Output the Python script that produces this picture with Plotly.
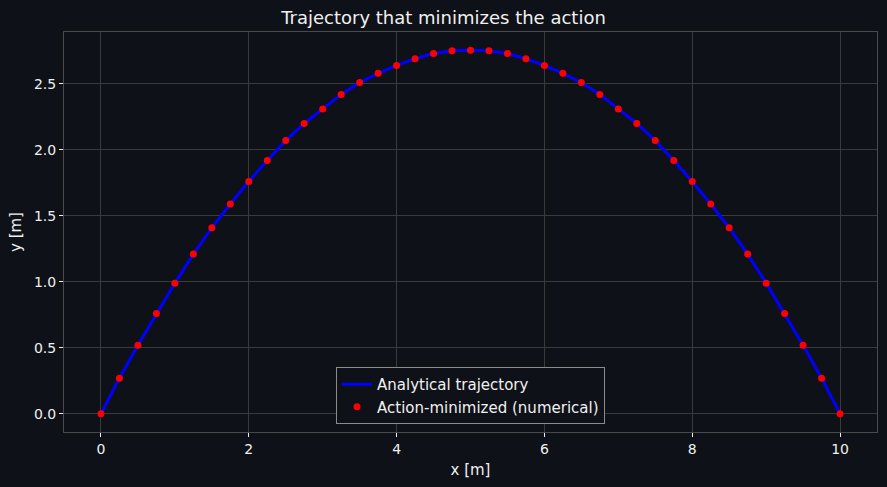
import plotly.graph_objects as go

# positions along x [m] (every 0.25 m)
x_pts = [0.0, 0.25, 0.5, 0.75, 1.0, 1.25, 1.5, 1.75, 2.0, 2.25, 2.5, 2.75, 3.0, 3.25, 3.5, 3.75,
         4.0, 4.25, 4.5, 4.75, 5.0, 5.25, 5.5, 5.75, 6.0, 6.25, 6.5, 6.75, 7.0, 7.25, 7.5, 7.75,
         8.0, 8.25, 8.5, 8.75, 9.0, 9.25, 9.5, 9.75, 10.0]
# heights [m]
y_pts = [0.0, 0.27, 0.52, 0.76, 0.99, 1.21, 1.41, 1.59, 1.76, 1.92, 2.07, 2.20, 2.31, 2.42, 2.51, 2.58,
         2.64, 2.69, 2.73, 2.75, 2.755, 2.75, 2.73, 2.69, 2.64, 2.58, 2.51, 2.42, 2.31, 2.20, 2.07, 1.92,
         1.76, 1.59, 1.41, 1.21, 0.99, 0.76, 0.52, 0.27, 0.0]

x_ticks = [0, 2, 4, 6, 8, 10]
y_ticks = [0.0, 0.5, 1.0, 1.5, 2.0, 2.5]

BG = '#0e1117'
GRID = '#3a3a3a'
TXT = '#f0f0f0'
FONT = 'DejaVu Sans'

fig = go.Figure()
fig.add_trace(go.Scatter(x=x_pts, y=y_pts, mode='lines', name='Analytical trajectory',
                         line=dict(color='#0000ff', width=3)))
fig.add_trace(go.Scatter(x=x_pts, y=y_pts, mode='markers', name='Action-minimized (numerical)',
                         marker=dict(color='#ff0000', size=7)))

axis_common = dict(showgrid=True, gridcolor=GRID, gridwidth=1, zeroline=False,
                   showline=True, linecolor='#4a4a4a', linewidth=1, mirror=True,
                   ticks='outside', ticklen=4, tickcolor=TXT,
                   tickfont=dict(family=FONT, size=14, color=TXT))

fig.update_layout(
    width=887, height=487,
    paper_bgcolor=BG, plot_bgcolor=BG,
    margin=dict(l=64, r=10, t=32, b=55),
    font=dict(family=FONT, color=TXT),
    title=dict(text='Trajectory that minimizes the action', x=0.5, xanchor='center',
               y=0.963, yanchor='middle', font=dict(family=FONT, size=18, color=TXT)),
    xaxis=dict(axis_common, range=[-0.5, 10.5], tickvals=x_ticks,
               title=dict(text='x [m]', font=dict(family=FONT, size=15, color=TXT), standoff=8)),
    yaxis=dict(axis_common, range=[-0.138, 2.893], tickvals=y_ticks, tickformat='.1f',
               title=dict(text='y [m]', font=dict(family=FONT, size=15, color=TXT), standoff=8)),
    legend=dict(x=0.5, xanchor='center', y=0.02, yanchor='bottom',
                bgcolor=BG, bordercolor='#8a8a8a', borderwidth=1, tracegroupgap=0,
                font=dict(family=FONT, size=15, color=TXT)),
    showlegend=True,
)

# drop the page margin so the figure sits at the window corner
fig.write_html('out.html', config={'displayModeBar': False},
               post_script="document.body.style.margin='0';document.body.style.background='#0e1117';")
